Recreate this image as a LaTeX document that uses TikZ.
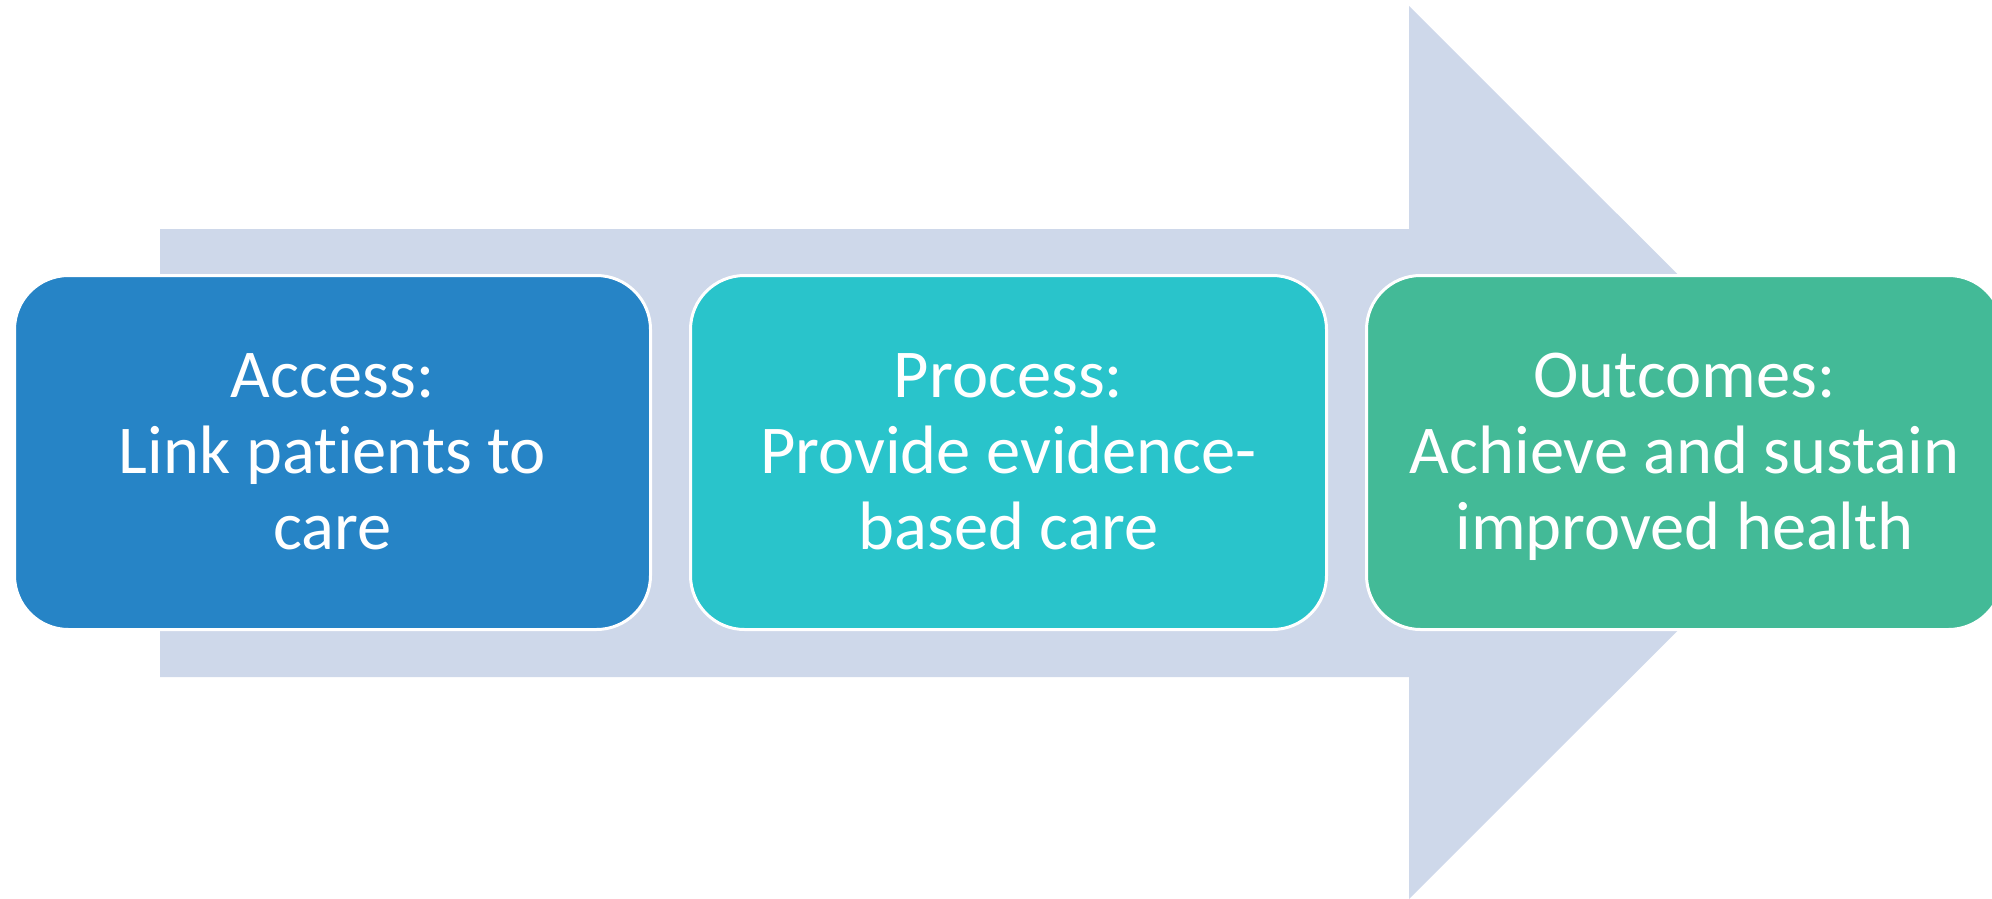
\documentclass[tikz,border=0pt]{standalone}
\usepackage{fontspec}
\setmainfont{Carlito}[Ligatures=NoCommon]
\usepackage{tikz}
\usetikzlibrary{
    positioning,
    shapes
}
\definecolor{arrowfill}{RGB}{206,216,234}
\definecolor{accessfill}{RGB}{38,132,198}
\definecolor{processfill}{RGB}{41,196,203}
\definecolor{outcomefill}{RGB}{67,186,151}
\newcommand{\upstrut}{\rule{0pt}{61pt}}
\newcommand{\lowstrut}{\rule[-20pt]{0pt}{20pt}}

\begin{document}
\begin{tikzpicture}[x=1pt, y=-1pt,
    stage/.style={rectangle, rounded corners=54pt, draw=white, line width=3pt,
        minimum width=636pt, minimum height=354pt, inner sep=0pt,
        text=white, align=center, font=\fontsize{68.5}{76}\selectfont}]
    \useasboundingbox (0, 0) rectangle (1992, 899);
    \fill[arrowfill] (160, 229) -- (1409, 229) -- (1409, 6) -- (1856, 452.5)
        -- (1409, 899) -- (1409, 677) -- (160, 677) -- cycle;

    \node[stage, fill=accessfill] (access) at (332.5, 452.5)
        {\upstrut Access:\\Link patients to\\care\lowstrut};
    \node[stage, fill=processfill, right=37pt of access] (process)
        {\upstrut Process:\\Provide evidence-\\based care\lowstrut};
    \node[stage, fill=outcomefill, right=37pt of process] (outcomes)
        {\upstrut Outcomes:\\Achieve and sustain\\improved health\lowstrut};
\end{tikzpicture}
\end{document}
